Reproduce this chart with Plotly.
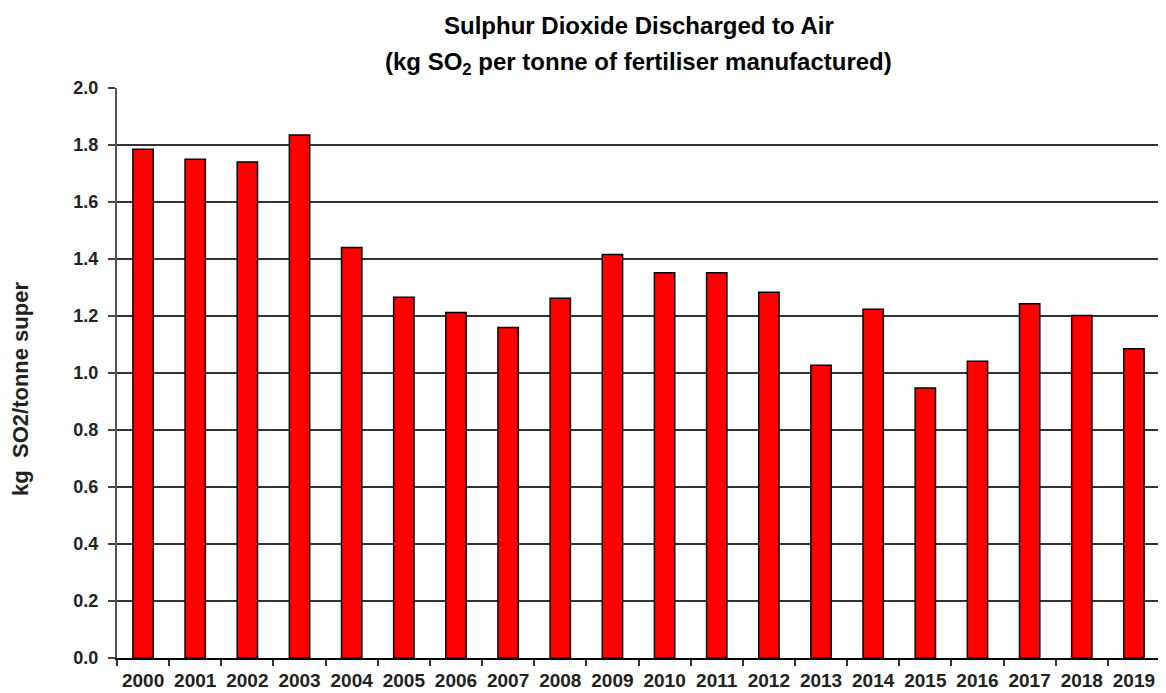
import plotly.graph_objects as go

years = [str(y) for y in range(2000, 2020)]
values = [1.785, 1.75, 1.74, 1.835, 1.44, 1.266, 1.212, 1.16, 1.262, 1.416,
          1.352, 1.352, 1.283, 1.027, 1.224, 0.947, 1.041, 1.243, 1.202, 1.085]
y_ticks = [0.0, 0.2, 0.4, 0.6, 0.8, 1.0, 1.2, 1.4, 1.6, 1.8, 2.0]
y_tick_labels = [f"{v:.1f}" for v in y_ticks]

FONT = "Liberation Sans, Arial, sans-serif"

fig = go.Figure(go.Bar(
    x=years, y=values,
    marker=dict(color="#FF0000", line=dict(color="#000000", width=1.5)),
))

fig.update_layout(
    width=1158, height=685,
    margin=dict(l=109, r=6, t=80, b=35),
    paper_bgcolor="white", plot_bgcolor="white",
    bargap=0.61,
    showlegend=False,
    font=dict(family=FONT, color="#000000"),
    xaxis=dict(
        type="category",
        tickson="boundaries",
        tickangle=0,
        automargin=False,
        ticks="outside", ticklen=6, tickcolor="#333333", tickwidth=1.5,
        showline=True, linecolor="#000000", linewidth=1.5,
        showgrid=False,
        ticklabelstandoff=4,
        tickfont=dict(size=19, family=FONT, color="#222222", weight="bold"),
    ),
    yaxis=dict(
        range=[0, 2.0],
        automargin=False,
        tickvals=y_ticks, ticktext=y_tick_labels,
        ticks="outside", ticklen=7, tickcolor="#444444", tickwidth=1.5,
        showline=True, linecolor="#555555", linewidth=2,
        showgrid=True, gridcolor="#333333", gridwidth=1.5,
        zeroline=False,
        ticklabelstandoff=6,
        tickfont=dict(size=18, family=FONT, color="#222222", weight="bold"),
    ),
)

fig.add_annotation(
    text="<b>Sulphur Dioxide Discharged to Air</b>",
    xref="paper", yref="paper", x=0.5, y=1.1105, xanchor="center", yanchor="middle",
    showarrow=False, font=dict(size=24, family=FONT, color="#000000"),
)
fig.add_annotation(
    text="<b>(kg SO<sub>2</sub> per tonne of fertiliser manufactured)</b>",
    xref="paper", yref="paper", x=0.5, y=1.043, xanchor="center", yanchor="middle",
    showarrow=False, font=dict(size=24, family=FONT, color="#000000"),
)
fig.add_annotation(
    text="<b>kg  SO2/tonne super</b>",
    xref="paper", yref="paper", x=-0.0921, y=0.472, xanchor="center", yanchor="middle",
    textangle=-90, showarrow=False, font=dict(size=22, family=FONT, color="#222222"),
)

fig.add_shape(type="line", xref="paper", yref="paper", x0=1, x1=1, y0=0, y1=1,
              line=dict(color="#BBBBBB", width=1.5))

fig.write_html("out.html")
